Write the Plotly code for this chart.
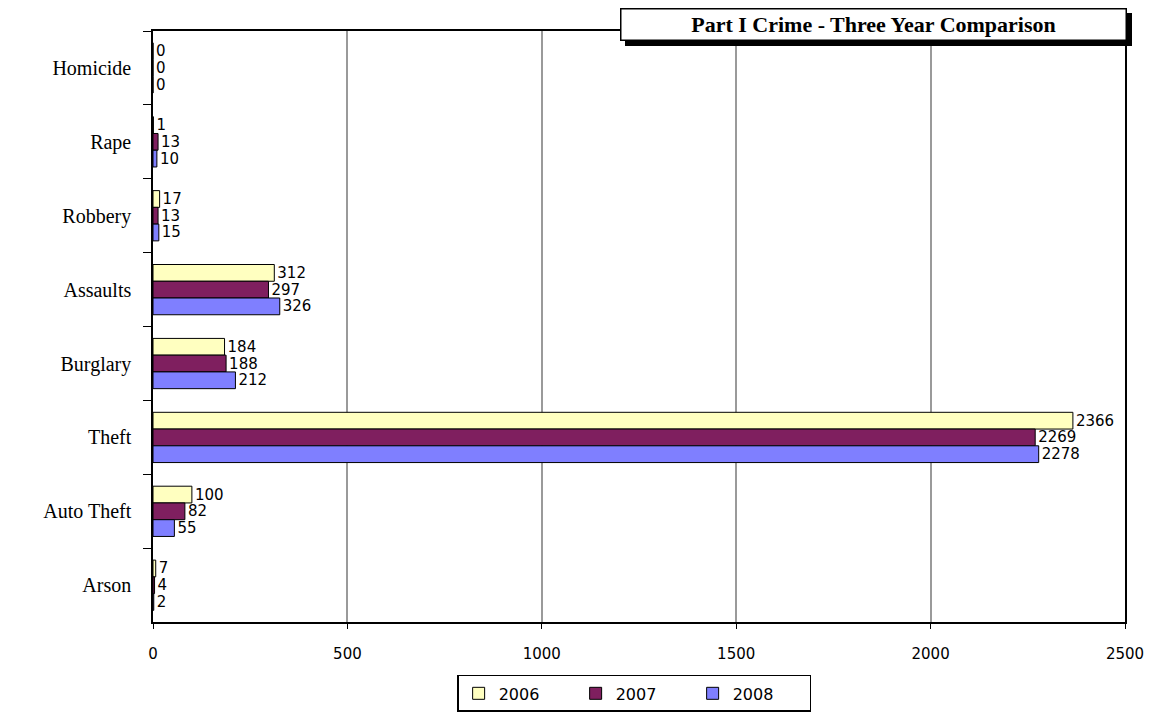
import plotly.graph_objects as go

# Part I crime counts by category and year
categories = ['Homicide', 'Rape', 'Robbery', 'Assaults', 'Burglary',
              'Theft', 'Auto Theft', 'Arson']
crimes_2006 = [0, 1, 17, 312, 184, 2366, 100, 7]
crimes_2007 = [0, 13, 13, 297, 188, 2269, 82, 4]
crimes_2008 = [0, 10, 15, 326, 212, 2278, 55, 2]
years = ['2006', '2007', '2008']
x_ticks = [0, 500, 1000, 1500, 2000, 2500]

colors = ['#FFFFC0', '#7F1F5F', '#7F7FFF']

fig = go.Figure()
for year, vals, col in zip(years, [crimes_2006, crimes_2007, crimes_2008], colors):
    fig.add_trace(go.Bar(
        y=categories, x=vals, name=year, orientation='h',
        marker=dict(color=col, line=dict(color='black', width=1)),
        text=[str(v) for v in vals],
        textposition='outside',
        constraintext='none',
        cliponaxis=False,
        textfont=dict(family='DejaVu Sans', size=15, color='black'),
    ))

# page body adds ~8px margin, so the figure is sized a bit smaller
fig.update_layout(
    width=1148, height=711,
    margin=dict(l=145, r=24, t=23, b=86),
    paper_bgcolor='white', plot_bgcolor='white',
    barmode='group', bargap=0.32, bargroupgap=0,
    showlegend=True,
    legend=dict(
        orientation='h', x=0.495, xanchor='center',
        yref='container', y=0.062, yanchor='top',
        bordercolor='black', borderwidth=1.5, bgcolor='white',
        font=dict(family='DejaVu Sans', size=16, color='black'),
        entrywidth=72, traceorder='normal',
    ),
)

fig.update_xaxes(
    range=[0, 2500], tickvals=x_ticks,
    showgrid=True, gridcolor='#9a9a9a', gridwidth=1.5,
    showline=True, linecolor='black', linewidth=1.5, mirror=True,
    ticks='outside', ticklen=5, tickcolor='black',
    ticklabelstandoff=12,
    tickfont=dict(family='DejaVu Sans', size=15, color='black'),
    zeroline=False,
)
fig.update_yaxes(
    autorange='reversed',
    showline=True, linecolor='black', linewidth=1.5, mirror=True,
    ticks='outside', ticklen=8, tickcolor='black', tickson='boundaries',
    ticklabelstandoff=16,
    tickfont=dict(family='Liberation Serif', size=20, color='black'),
    showgrid=False,
)

# title box with drop shadow
title = 'Part I Crime - Three Year Comparison'
fig.add_annotation(
    text=' ', xref='paper', yref='paper', x=0.741, y=1.011,
    xanchor='center', yanchor='middle', xshift=5, yshift=-5,
    showarrow=False, width=500, height=26,
    bgcolor='black', bordercolor='black', borderwidth=1.5, borderpad=2,
    font=dict(family='Liberation Serif', size=22, color='black'),
)
fig.add_annotation(
    text='<b>' + title + '</b>', xref='paper', yref='paper', x=0.741, y=1.011,
    xanchor='center', yanchor='middle',
    showarrow=False, width=500, height=26,
    bgcolor='white', bordercolor='black', borderwidth=1.5, borderpad=2,
    font=dict(family='Liberation Serif', size=22, color='black'),
)

fig.write_html('out.html')
